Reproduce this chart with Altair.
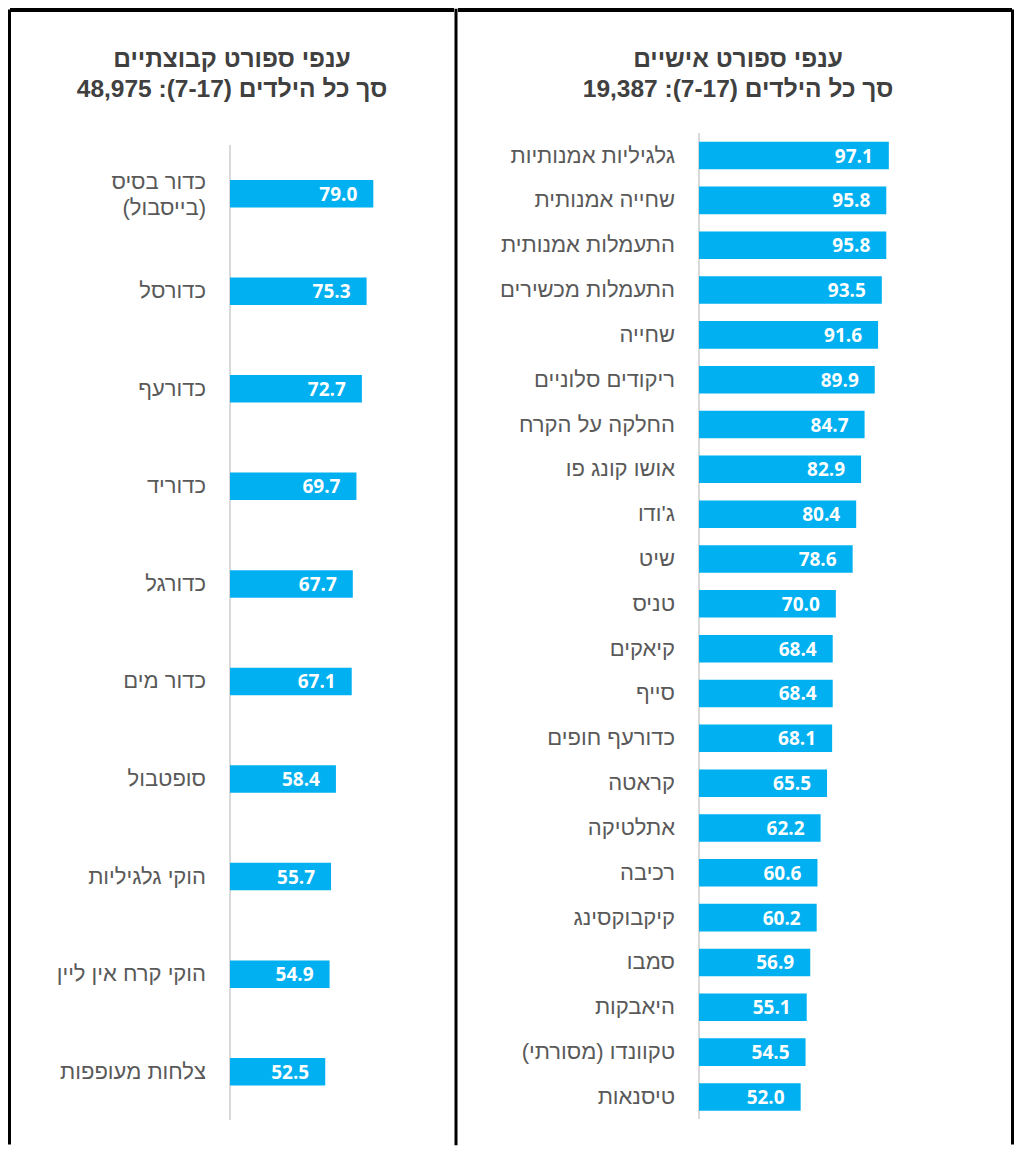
import altair as alt
import pandas as pd

RLM = "\u200F"

# ---- data ----
team_title_1 = "ענפי ספורט קבוצתיים"
team_title_2 = "סך כל הילדים (7-17): 48,975"
team_labels = ["כדור בסיס|(בייסבול)", "כדורסל", "כדורעף", "כדוריד", "כדורגל",
               "כדור מים", "סופטבול", "הוקי גלגיליות", "הוקי קרח אין ליין", "צלחות מעופפות"]
team_values = [79.0, 75.3, 72.7, 69.7, 67.7, 67.1, 58.4, 55.7, 54.9, 52.5]

ind_title_1 = "ענפי ספורט אישיים"
ind_title_2 = "סך כל הילדים (7-17): 19,387"
ind_labels = ["גלגיליות אמנותיות", "שחייה אמנותית", "התעמלות אמנותית", "התעמלות מכשירים",
              "שחייה", "ריקודים סלוניים", "החלקה על הקרח", "אושו קונג פו", "ג'ודו", "שיט",
              "טניס", "קיאקים", "סייף", "כדורעף חופים", "קראטה", "אתלטיקה", "רכיבה",
              "קיקבוקסינג", "סמבו", "היאבקות", "טקוונדו (מסורתי)", "טיסנאות"]
ind_values = [97.1, 95.8, 95.8, 93.5, 91.6, 89.9, 84.7, 82.9, 80.4, 78.6, 70.0,
              68.4, 68.4, 68.1, 65.5, 62.2, 60.6, 60.2, 56.9, 55.1, 54.5, 52.0]

BAR = "#00B0F0"
LABEL_FONT = "Liberation Sans, Arial, DejaVu Sans"
VALUE_FONT = "Open Sans, Liberation Sans"
TITLE_FONT = "Liberation Sans, Arial"
H = 1138


def rtl(s):
    return "|".join(RLM + part + RLM for part in s.split("|"))


def panel(labels, values, t1, t2, width, x0, ppu, r0, r1, pad_inner,
          axis_top, axis_bot, title_x, vlines):
    df = pd.DataFrame({
        "order": list(range(len(labels))),
        "cat": [rtl(l) for l in labels],
        "nlines": [len(l.split("|")) for l in labels],
        "value": values,
        "txt": [f"{v:.1f}" for v in values],
    })
    one = pd.DataFrame({"a": [0]})
    xs = alt.Scale(domain=[0, 100], range=[x0, x0 + 100 * ppu], nice=False)
    ys = alt.Scale(range=[r0, r1], paddingInner=pad_inner, paddingOuter=pad_inner / 2)
    X = alt.X("value:Q", axis=None, scale=xs)
    Y = alt.Y("order:O", axis=None, scale=ys)

    axis_line = alt.Chart(one).mark_rule(color="#d9d9d9", strokeWidth=2).encode(
        x=alt.X("a:Q", axis=None, scale=xs),
        y=alt.value(axis_top), y2=alt.value(axis_bot))
    bars = alt.Chart(df).mark_bar(color=BAR).encode(x=X, y=Y)
    vals = alt.Chart(df).mark_text(align="right", baseline="middle", dx=-16, dy=1,
                                   color="white", fontWeight="bold", fontSize=19,
                                   font=VALUE_FONT).encode(x=X, y=Y, text="txt:N")
    cat_style = dict(align="right", baseline="middle", dx=-24, color="#595959",
                     fontSize=22, font=LABEL_FONT, lineBreak="|", lineHeight=26)
    cats1 = alt.Chart(df).transform_filter("datum.nlines == 1").mark_text(**cat_style).encode(
        x=alt.datum(0), y=Y, text="cat:N")
    cats2 = alt.Chart(df).transform_filter("datum.nlines == 2").mark_text(dy=-12, **cat_style).encode(
        x=alt.datum(0), y=Y, text="cat:N")
    tstyle = dict(align="center", baseline="middle", fontSize=24.5, fontWeight="bold",
                  color="#404040", font=TITLE_FONT)
    title1 = alt.Chart(one).mark_text(text=rtl(t1), **tstyle).encode(
        x=alt.value(title_x), y=alt.value(52))
    title2 = alt.Chart(one).mark_text(text=rtl(t2), **tstyle).encode(
        x=alt.value(title_x), y=alt.value(82))
    top = alt.Chart(one).mark_rule(color="black", strokeWidth=4).encode(
        x=alt.value(2), x2=alt.value(width - 2), y=alt.value(2))
    layers = [axis_line, bars, vals, cats1, cats2, title1, title2, top]
    for fx, sw in vlines:
        layers.append(alt.Chart(one).mark_rule(color="black", strokeWidth=sw).encode(
            x=alt.value(fx), y=alt.value(sw / 2), y2=alt.value(H - sw / 2)))
    return alt.layer(*layers).properties(width=width, height=H)


LW, RW = 448, 558
left = panel(team_labels, team_values, team_title_1, team_title_2, LW,
             222, 1.814, 136.9, 1112.5, 0.718, 137, 1112, 224,
             [(1.5, 3), (LW - 0.75, 1.5)])
right = panel(ind_labels, ind_values, ind_title_1, ind_title_2, RW,
              243, 1.955, 125.1, 1111.4, 0.385, 125, 1111, 282,
              [(0.75, 1.5), (RW - 1.5, 3)])

chart = alt.hconcat(left, right, spacing=0).properties(padding=0).configure_view(stroke=None)
chart.save("out.html", embed_options={"renderer": "svg", "actions": False})
